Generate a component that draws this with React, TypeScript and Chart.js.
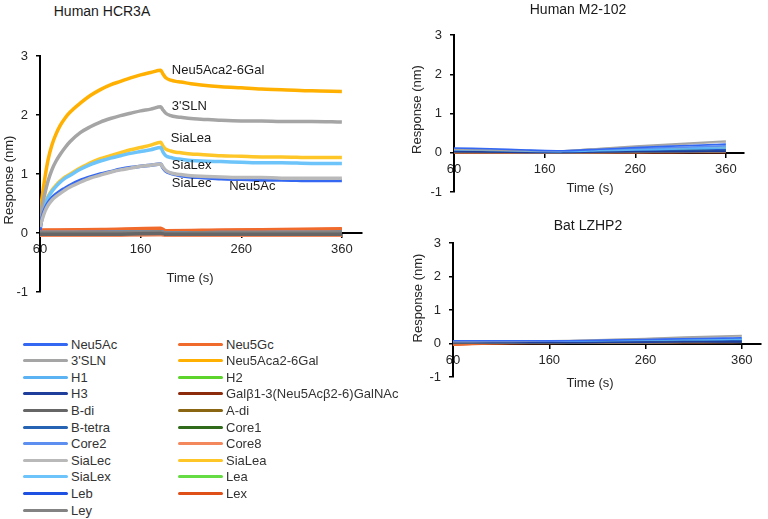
import React, { useEffect, useRef } from "react";
import { Chart, registerables } from "chart.js";

Chart.register(...registerables);

// ---------- DATA ----------
const SERIES = [
  "Neu5Ac", "3'SLN", "H1", "H3", "B-di", "B-tetra", "Core2", "SiaLec", "SiaLex", "Leb", "Ley",
  "Neu5Gc", "Neu5Aca2-6Gal", "H2", "Galβ1-3(Neu5Acβ2-6)GalNAc", "A-di", "Core1", "Core8", "SiaLea", "Lea", "Lex",
];
const COLORS = [
  "#3468F2", "#A5A5A5", "#5BB3F3", "#1F3E9C", "#666666", "#2663B2", "#5C8FF0", "#B9B9B9", "#6CC4FA", "#1E50E2", "#838383",
  "#F06A2C", "#FFB000", "#5CD42C", "#8C2B0C", "#8A6512", "#2F6B1B", "#F2885C", "#FFC628", "#66DC44", "#DF4F18",
];

const X_TICKS = [60, 160, 260, 360];
const Y_TICKS = [-1, 0, 1, 2, 3];

// Human HCR3A – strongly binding glycans (fine time grid)
const T_FINE = [60, 62, 65, 68, 72, 76, 80, 85, 90, 100, 110, 120, 130, 140, 150, 160, 170, 180, 182, 185, 190, 195, 200, 210, 220, 240, 260, 280, 300, 330, 360];
const HCR_NEU5ACA26GAL = [0.30, 0.60, 0.95, 1.24, 1.50, 1.68, 1.82, 1.95, 2.05, 2.20, 2.33, 2.43, 2.51, 2.57, 2.63, 2.68, 2.72, 2.76, 2.70, 2.63, 2.59, 2.57, 2.56, 2.53, 2.51, 2.48, 2.46, 2.44, 2.43, 2.41, 2.40];
const HCR_3SLN = [0.25, 0.45, 0.68, 0.88, 1.08, 1.22, 1.33, 1.45, 1.55, 1.70, 1.80, 1.88, 1.94, 1.99, 2.03, 2.07, 2.10, 2.14, 2.09, 2.03, 1.99, 1.97, 1.96, 1.94, 1.93, 1.91, 1.90, 1.90, 1.89, 1.89, 1.88];
const HCR_SIALEA = [0.22, 0.33, 0.50, 0.62, 0.73, 0.81, 0.88, 0.95, 1.00, 1.10, 1.19, 1.26, 1.31, 1.36, 1.41, 1.45, 1.49, 1.54, 1.48, 1.42, 1.39, 1.37, 1.36, 1.34, 1.33, 1.31, 1.30, 1.29, 1.29, 1.28, 1.28];
const HCR_SIALEX = [0.18, 0.30, 0.48, 0.60, 0.71, 0.79, 0.86, 0.93, 0.98, 1.08, 1.16, 1.22, 1.27, 1.31, 1.35, 1.38, 1.41, 1.45, 1.38, 1.31, 1.28, 1.26, 1.25, 1.23, 1.22, 1.21, 1.20, 1.19, 1.19, 1.18, 1.18];
const HCR_NEU5AC = [0.05, 0.25, 0.41, 0.51, 0.60, 0.66, 0.71, 0.76, 0.81, 0.89, 0.95, 1.00, 1.04, 1.08, 1.11, 1.13, 1.15, 1.17, 1.11, 1.05, 1.01, 0.99, 0.97, 0.95, 0.94, 0.92, 0.91, 0.90, 0.90, 0.89, 0.89];
const HCR_SIALEC = [0.10, 0.22, 0.37, 0.47, 0.56, 0.62, 0.67, 0.73, 0.78, 0.86, 0.93, 0.98, 1.03, 1.07, 1.10, 1.13, 1.15, 1.17, 1.12, 1.06, 1.02, 1.00, 0.99, 0.97, 0.96, 0.95, 0.94, 0.94, 0.93, 0.93, 0.93];

// Human HCR3A – non-binding glycans (coarse time grid), rows follow SERIES order (null = fine series above)
const T_FLAT = [60, 120, 180, 185, 240, 300, 360];
const HCR_FLAT: (number[] | null)[] = [
  null,
  null,
  [0.01, 0.01, 0.02, 0.00, 0.00, 0.01, 0.01],
  [0.00, 0.00, 0.01, -0.01, 0.00, 0.00, 0.00],
  [-0.02, -0.02, -0.01, -0.02, -0.02, -0.02, -0.02],
  [0.00, 0.01, 0.01, 0.00, 0.00, 0.00, 0.01],
  [0.01, 0.01, 0.02, 0.00, 0.01, 0.01, 0.01],
  null,
  null,
  [0.00, 0.00, 0.01, -0.01, 0.00, 0.00, 0.00],
  [0.01, 0.01, 0.02, 0.00, 0.01, 0.01, 0.01],
  [0.05, 0.06, 0.08, 0.04, 0.05, 0.06, 0.07],
  null,
  [0.00, 0.01, 0.01, 0.00, 0.00, 0.00, 0.01],
  [0.00, 0.00, 0.01, -0.01, -0.01, 0.00, 0.00],
  [0.00, 0.01, 0.01, 0.00, 0.00, 0.01, 0.01],
  [0.00, 0.00, 0.01, -0.01, 0.00, 0.00, 0.00],
  [-0.04, -0.04, -0.03, -0.04, -0.04, -0.04, -0.04],
  null,
  [0.01, 0.01, 0.01, 0.00, 0.00, 0.01, 0.01],
  [0.04, 0.05, 0.06, 0.03, 0.04, 0.05, 0.06],
];

// Human M2-102 and Bat LZHP2, rows follow SERIES order
const T_RIGHT = [60, 100, 140, 180, 220, 260, 300, 340, 360];
const M2_102: number[][] = [
  [0.12, 0.10, 0.07, 0.05, 0.09, 0.13, 0.17, 0.20, 0.22],
  [0.09, 0.07, 0.05, 0.05, 0.11, 0.17, 0.22, 0.27, 0.30],
  [0.08, 0.06, 0.04, 0.03, 0.05, 0.07, 0.09, 0.11, 0.12],
  [0.03, 0.02, 0.01, 0.01, 0.02, 0.03, 0.03, 0.04, 0.04],
  [0.02, 0.01, 0.01, 0.00, 0.01, 0.02, 0.02, 0.03, 0.03],
  [0.04, 0.03, 0.02, 0.02, 0.03, 0.04, 0.05, 0.06, 0.06],
  [0.10, 0.08, 0.06, 0.04, 0.07, 0.10, 0.13, 0.16, 0.18],
  [0.08, 0.07, 0.05, 0.05, 0.10, 0.15, 0.20, 0.25, 0.27],
  [0.07, 0.05, 0.04, 0.03, 0.06, 0.09, 0.12, 0.14, 0.15],
  [0.05, 0.04, 0.03, 0.02, 0.03, 0.05, 0.06, 0.07, 0.08],
  [0.01, 0.01, 0.00, 0.00, 0.01, 0.01, 0.02, 0.02, 0.02],
  [0.00, 0.00, -0.01, -0.01, 0.00, 0.01, 0.01, 0.02, 0.02],
  [0.03, 0.02, 0.02, 0.02, 0.05, 0.08, 0.11, 0.14, 0.16],
  [0.02, 0.02, 0.01, 0.01, 0.03, 0.04, 0.06, 0.07, 0.08],
  [0.00, 0.00, 0.00, -0.01, 0.00, 0.00, 0.01, 0.01, 0.01],
  [0.01, 0.01, 0.01, 0.00, 0.02, 0.03, 0.04, 0.05, 0.06],
  [0.03, 0.02, 0.02, 0.01, 0.02, 0.03, 0.04, 0.05, 0.05],
  [0.01, 0.00, 0.00, 0.00, 0.01, 0.02, 0.03, 0.03, 0.04],
  [0.02, 0.02, 0.01, 0.01, 0.04, 0.06, 0.09, 0.11, 0.12],
  [0.04, 0.03, 0.02, 0.02, 0.03, 0.05, 0.06, 0.07, 0.07],
  [0.00, -0.01, -0.01, -0.01, 0.00, 0.00, 0.01, 0.01, 0.01],
];
const LZHP2: number[][] = [
  [0.08, 0.08, 0.08, 0.08, 0.10, 0.12, 0.14, 0.16, 0.17],
  [0.05, 0.06, 0.07, 0.09, 0.12, 0.15, 0.19, 0.22, 0.24],
  [0.07, 0.07, 0.07, 0.07, 0.08, 0.10, 0.11, 0.12, 0.13],
  [0.03, 0.03, 0.03, 0.03, 0.04, 0.04, 0.05, 0.05, 0.05],
  [0.01, 0.02, 0.02, 0.02, 0.03, 0.03, 0.04, 0.04, 0.04],
  [0.04, 0.04, 0.04, 0.04, 0.05, 0.06, 0.07, 0.07, 0.08],
  [0.07, 0.07, 0.07, 0.07, 0.09, 0.11, 0.12, 0.14, 0.15],
  [0.04, 0.05, 0.06, 0.08, 0.11, 0.14, 0.17, 0.20, 0.22],
  [0.06, 0.06, 0.06, 0.07, 0.08, 0.09, 0.11, 0.12, 0.13],
  [0.05, 0.05, 0.05, 0.05, 0.06, 0.07, 0.08, 0.09, 0.09],
  [0.00, 0.01, 0.01, 0.01, 0.02, 0.02, 0.03, 0.03, 0.03],
  [-0.04, 0.00, 0.01, 0.01, 0.02, 0.02, 0.03, 0.03, 0.04],
  [0.00, 0.02, 0.03, 0.04, 0.05, 0.07, 0.08, 0.10, 0.11],
  [0.01, 0.02, 0.02, 0.03, 0.03, 0.04, 0.05, 0.05, 0.06],
  [-0.02, 0.00, 0.01, 0.01, 0.02, 0.03, 0.04, 0.05, 0.06],
  [0.00, 0.01, 0.02, 0.03, 0.04, 0.05, 0.06, 0.07, 0.08],
  [0.01, 0.01, 0.02, 0.02, 0.03, 0.03, 0.04, 0.04, 0.05],
  [-0.03, 0.00, 0.01, 0.02, 0.03, 0.04, 0.05, 0.06, 0.07],
  [0.02, 0.03, 0.04, 0.04, 0.05, 0.06, 0.07, 0.08, 0.09],
  [0.02, 0.02, 0.03, 0.03, 0.04, 0.04, 0.05, 0.05, 0.06],
  [-0.05, -0.01, 0.00, 0.01, 0.02, 0.03, 0.03, 0.04, 0.05],
];

// Curve labels on the HCR3A panel (data coordinates)
const HCR_LABELS = [
  { text: "Neu5Aca2-6Gal", x: 191, y: 2.76 },
  { text: "3'SLN", x: 191, y: 2.14 },
  { text: "SiaLea", x: 190, y: 1.6 },
  { text: "SiaLex", x: 191, y: 1.15 },
  { text: "SiaLec", x: 191, y: 0.84 },
  { text: "Neu5Ac", x: 248, y: 0.79 },
];

// Series drawn above the others on the HCR3A panel
const HCR_TOP_LAYER = ["Ley", "B-di", "SiaLec"];

// ---------- BUILD ----------
const FONT = '"Liberation Sans", Arial, Helvetica, sans-serif';

function pts(t: number[], v: number[]) {
  return t.map((x, i) => ({ x, y: v[i] }));
}

const HCR_FINE: Record<string, number[]> = {
  "Neu5Ac": HCR_NEU5AC,
  "3'SLN": HCR_3SLN,
  "SiaLec": HCR_SIALEC,
  "SiaLex": HCR_SIALEX,
  "Neu5Aca2-6Gal": HCR_NEU5ACA26GAL,
  "SiaLea": HCR_SIALEA,
};

function hcrDatasets() {
  return SERIES.map((name, i) => {
    const fine = HCR_FINE[name];
    return {
      label: name,
      data: fine ? pts(T_FINE, fine) : pts(T_FLAT, HCR_FLAT[i] as number[]),
      borderColor: COLORS[i],
      backgroundColor: COLORS[i],
      borderWidth: fine ? 3.5 : 3.5,
      pointRadius: 0,
      cubicInterpolationMode: "monotone" as const,
      fill: false,
      order: HCR_TOP_LAYER.includes(name) ? -1 : 0,
    };
  });
}

function rightDatasets(rows: number[][]) {
  return SERIES.map((name, i) => ({
    label: name,
    data: pts(T_RIGHT, rows[i]),
    borderColor: COLORS[i],
    backgroundColor: COLORS[i],
    borderWidth: 1.6,
    pointRadius: 0,
    tension: 0.2,
    fill: false,
  }));
}

const textPlugin = {
  id: "panelText",
  afterDraw(chart: any, _args: any, opts: any) {
    const { ctx, chartArea, scales } = chart;
    ctx.save();
    ctx.fillStyle = "#1a1a1a";
    ctx.font = `13px ${FONT}`;
    ctx.textAlign = "left";
    ctx.textBaseline = "middle";
    for (const a of opts.labels || []) {
      ctx.fillText(a.text, scales.x.getPixelForValue(a.x), scales.y.getPixelForValue(a.y));
    }
    const y0 = scales.y.getPixelForValue(0);
    ctx.textAlign = "center";
    ctx.fillStyle = "#262626";
    ctx.fillText(opts.xTitle, chartArea.left + opts.xFrac * (chartArea.right - chartArea.left), y0 + opts.xDy);
    ctx.translate(opts.yX, (chartArea.top + chartArea.bottom) / 2 + opts.yDy);
    ctx.rotate(-Math.PI / 2);
    ctx.fillText(opts.yTitle, 0, 0);
    ctx.restore();
  },
};

type PanelSpec = {
  left: number;
  top: number;
  width: number;
  height: number;
  padding: { top: number; right: number; bottom: number; left: number };
  yWidth: number;
  datasets: any[];
  text: any;
};

function buildConfig(spec: PanelSpec): any {
  const tickFont = { family: FONT, size: 13 };
  const grid = { drawOnChartArea: false, drawTicks: true, tickLength: 4, color: "#000", lineWidth: 1.5 };
  const border = { display: true, color: "#000", width: 2 };
  return {
    type: "line",
    data: { datasets: spec.datasets },
    options: {
      responsive: false,
      animation: false,
      layout: { padding: spec.padding },
      plugins: {
        legend: { display: false },
        tooltip: { enabled: false },
        title: { display: false },
        panelText: spec.text,
      },
      scales: {
        x: {
          type: "linear",
          min: 60,
          max: 380,
          position: { y: 0 },
          afterBuildTicks: (s: any) => {
            s.ticks = X_TICKS.map((v) => ({ value: v }));
          },
          grid,
          border,
          ticks: { font: tickFont, color: "#262626", padding: 5, maxRotation: 0, autoSkip: false },
        },
        y: {
          type: "linear",
          min: -1,
          max: 3,
          position: "left",
          afterBuildTicks: (s: any) => {
            s.ticks = Y_TICKS.map((v) => ({ value: v }));
          },
          afterFit: (s: any) => {
            s.width = spec.yWidth;
          },
          grid,
          border,
          ticks: { font: tickFont, color: "#262626", padding: 8 },
        },
      },
    },
    plugins: [textPlugin],
  };
}

function Panel({ spec }: { spec: PanelSpec }) {
  const ref = useRef<HTMLCanvasElement | null>(null);
  useEffect(() => {
    if (!ref.current) return;
    const chart = new Chart(ref.current, buildConfig(spec));
    return () => chart.destroy();
  }, []);
  return (
    <canvas
      ref={ref}
      width={spec.width}
      height={spec.height}
      style={{ position: "absolute", left: spec.left, top: spec.top, width: spec.width, height: spec.height }}
    />
  );
}

const PANELS: PanelSpec[] = [
  {
    left: 0, top: 40, width: 385, height: 270,
    padding: { top: 16, right: 23, bottom: 18, left: 0 },
    yWidth: 40,
    datasets: hcrDatasets(),
    text: { labels: HCR_LABELS, xTitle: "Time (s)", xFrac: 0.466, xDy: 45, yTitle: "Response (nm)", yX: 9, yDy: 6 },
  },
  {
    left: 390, top: 0, width: 378, height: 215,
    padding: { top: 35, right: 24, bottom: 23, left: 0 },
    yWidth: 64,
    datasets: rightDatasets(M2_102),
    text: { labels: [], xTitle: "Time (s)", xFrac: 0.469, xDy: 36, yTitle: "Response (nm)", yX: 27, yDy: -4 },
  },
  {
    left: 390, top: 215, width: 378, height: 185,
    padding: { top: 28, right: 7, bottom: 23, left: 0 },
    yWidth: 63,
    datasets: rightDatasets(LZHP2),
    text: { labels: [], xTitle: "Time (s)", xFrac: 0.445, xDy: 40, yTitle: "Response (nm)", yX: 28, yDy: -12 },
  },
];

const TITLES = [
  { text: "Human HCR3A", cx: 102, cy: 12 },
  { text: "Human M2-102", cx: 578, cy: 10 },
  { text: "Bat LZHP2", cx: 588, cy: 226 },
];

function Legend() {
  const perCol = 11;
  return (
    <>
      {SERIES.map((name, i) => {
        const col = i < perCol ? 0 : 1;
        const row = col === 0 ? i : i - perCol;
        const lineX = col === 0 ? 23 : 178;
        const cy = 344 + row * 16.6;
        return (
          <div key={name} style={{ position: "absolute", left: lineX, top: cy - 9, height: 18, display: "flex", alignItems: "center", whiteSpace: "nowrap" }}>
            <span style={{ display: "inline-block", width: 45, height: 3, background: COLORS[i], borderRadius: 1.5 }} />
            <span style={{ marginLeft: 3, font: `13px ${FONT}`, color: "#333" }}>{name}</span>
          </div>
        );
      })}
    </>
  );
}

export default function App() {
  return (
    <div style={{ position: "absolute", left: 0, top: 0, width: 768, height: 519, background: "#fff", overflow: "hidden" }}>
      {PANELS.map((p, i) => (
        <Panel key={i} spec={p} />
      ))}
      {TITLES.map((t) => (
        <div
          key={t.text}
          style={{ position: "absolute", left: t.cx - 100, top: t.cy - 9, width: 200, height: 18, lineHeight: "18px", textAlign: "center", font: `14px ${FONT}`, color: "#1a1a1a" }}
        >
          {t.text}
        </div>
      ))}
      <Legend />
    </div>
  );
}
